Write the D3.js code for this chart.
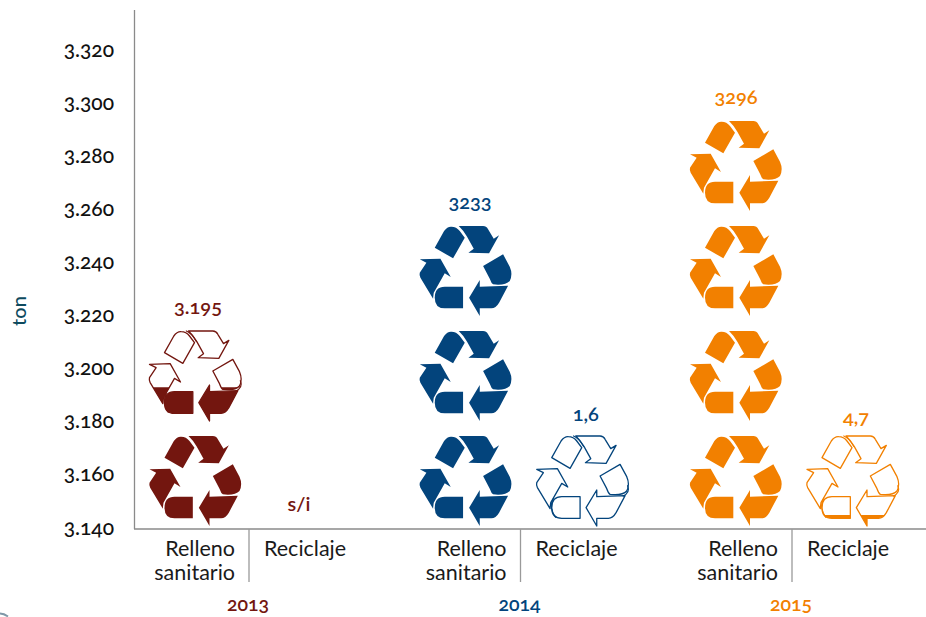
<!DOCTYPE html>
<html><head><meta charset="utf-8">
<script src="https://cdn.jsdelivr.net/npm/d3@7/dist/d3.min.js"></script>
<style>
html,body{margin:0;padding:0;background:#fff;overflow:hidden}
text{font-family:Lato,"Open Sans",sans-serif;font-feature-settings:"onum" 1,"lnum" 0}
</style></head><body>
<svg id="c" width="926" height="617"></svg>
<script>
const years = ["2013","2014","2015"];
const yearColors = ["#73160f","#03447c","#f28000"];
const categories = ["Relleno sanitario","Reciclaje"];
const rellenoLabels = ["3.195","3233","3296"];
const reciclajeLabels = ["s/i","1,6","4,7"];
// filled icon units (one icon = one unit)
const rellenoIcons = [1.33,3,4];
const reciclajeIcons = [0,0,0.114];
const tickValues = [3140,3160,3180,3200,3220,3240,3260,3280,3300,3320];
const tickLabels = ["3.140","3.160","3.180","3.200","3.220","3.240","3.260","3.280","3.300","3.320"];

const pieces = [
 "M25,65 L53,15 Q63,1 75,2 Q90,2 100,15 L115,35 L80,97 Z",
 "M97,0 L170,0 Q180,0 185,10 L202,38 L218,28 L188,82 L126,80 L142,68 L122,32 Q110,12 97,0 Z",
 "M170,120 L230,85 L250,122 Q260,145 250,165 Q240,176 215,176 L200,175 Q195,172 190,158 Z",
 "M245,179 L218,230 Q208,247 195,247 L160,247 L160,270 L128,215 L160,162 L160,182 Z",
 "M110,182 L110,247 L55,247 Q25,247 25,215 Q25,182 55,182 Z",
 "M-20,100 L42,98 L73,153 L55,142 L22,200 Q20,215 20,218 L-18,155 Q-22,148 -20,140 L0,110 Z"
];
const echoes = [
 "M89,-1 Q106,5 121,32",
 "M31,186 Q14,212 37,245",
 "M252,148 Q262,170 238,181"
];
const iconPx = 90 / 270;

const svg = d3.select("#c");
const y = d3.scaleLinear().domain([3140,3320]).range([529,51]);
const xGroup = d3.scalePoint().domain(years).range([249,792]);
const xIcon = d3.scalePoint().domain(years).range([250.5,791]);
const xLabel = d3.scalePoint().domain(years).range([198,736]);
const xInner = d3.scalePoint().domain(categories).range([-55,62]);
const iconY = d3.scaleLinear().domain([0,1]).range([527,422]);

// axes
svg.append("g").attr("transform","translate(114,-2.5)")
  .call(d3.axisLeft(y).tickValues(tickValues).tickSize(0).tickFormat((d,i)=>tickLabels[i]))
  .call(g=>g.select(".domain").remove())
  .selectAll("text").attr("x",0).attr("dy","0.36em").attr("text-anchor","end")
  .style("font-size","21px").style("font-weight",500).attr("fill","#111");
svg.append("line").attr("x1",134.5).attr("x2",134.5).attr("y1",10).attr("y2",y(3140)).attr("stroke","#8a8a8a").attr("stroke-width",1.3);
svg.append("line").attr("x1",134).attr("x2",926).attr("y1",y(3140)).attr("y2",y(3140)).attr("stroke","#8a8a8a").attr("stroke-width",1.3);
svg.append("text").attr("transform","translate(26,311) rotate(-90)").attr("text-anchor","middle")
  .attr("fill","#0d4a5e").style("font-size","20px").style("font-weight",500).text("ton");
svg.append("path").attr("d","M0,613.5 Q4,613.5 8,616.5").attr("fill","none").attr("stroke","#7f98a8").attr("stroke-width",2);

const defs = svg.append("defs");
let uid = 0;
function drawIcon(cx, unit, fill, color){
  const top = iconY(unit+1)+ (iconY(0)-iconY(1)-91);
  const tf = `translate(${cx-46},${top}) scale(${iconPx}) translate(20,0)`;
  const full = fill>=1;
  const inner = svg.append("g").attr("transform",tf);
  inner.selectAll("path.o").data(pieces).join("path").attr("class","o").attr("d",d=>d)
     .attr("fill",full?color:"#fff").attr("stroke",color).attr("stroke-width",full?0:1.3/iconPx).attr("stroke-linejoin","round");
  if(!full){
    inner.selectAll("path.e").data(echoes).join("path").attr("class","e").attr("d",d=>d)
      .attr("fill","none").attr("stroke",color).attr("stroke-width",1.1/iconPx);
  }
  if(!full && fill>0){
    const id="cl"+(uid++);
    const yTop = iconY(unit+fill);
    defs.append("clipPath").attr("id",id).append("rect").attr("x",cx-60).attr("width",120).attr("y",yTop).attr("height",iconY(unit)+10-yTop);
    svg.append("g").attr("clip-path",`url(#${id})`).append("g").attr("transform",tf)
      .selectAll("path").data(pieces).join("path").attr("d",d=>d).attr("fill",color);
  }
}

years.forEach((yr,i)=>{
  const c = yearColors[i], gx = xGroup(yr), ix = xIcon(yr);
  const r = rellenoIcons[i], k = reciclajeIcons[i];
  const cxR = ix + xInner(categories[0]), cxC = ix + xInner(categories[1]);
  for(let u=0;u<Math.ceil(r);u++) drawIcon(cxR,u,Math.min(1,r-u),c);
  if(reciclajeLabels[i]!=="s/i") drawIcon(cxC,0,k,c);
  svg.append("text").attr("x",xLabel(yr)+(i==1?3:0)).attr("y",iconY(Math.ceil(r))+ (iconY(0)-iconY(1)-91) -17.5)
    .attr("text-anchor","middle").attr("fill",c).style("font-size","20px").style("font-weight",600).text(rellenoLabels[i]);
  const noData = reciclajeLabels[i]==="s/i";
  svg.append("text").attr("x",noData?299:cxC+3).attr("y",noData?511:(i==2?424:421))
    .attr("text-anchor","middle").attr("fill",c).style("font-size","20px").style("font-weight",600).text(reciclajeLabels[i]);
  svg.append("line").attr("x1",gx).attr("x2",gx).attr("y1",y(3140)).attr("y2",582).attr("stroke","#9a9a9a").attr("stroke-width",1.3);
  const t = svg.append("text").attr("fill","#1a1a1a").style("font-size","21.5px").attr("text-anchor","end");
  t.append("tspan").attr("x",gx-14).attr("y",556).text("Relleno");
  t.append("tspan").attr("x",gx-14).attr("y",580).text("sanitario");
  svg.append("text").attr("x",gx+15).attr("y",556).attr("fill","#1a1a1a").style("font-size","21.5px").text(categories[1]);
  svg.append("text").attr("x",gx-1).attr("y",611).attr("text-anchor","middle").attr("fill",c)
    .style("font-size","19.5px").style("font-weight",600).text(yr);
});
</script></body></html>
